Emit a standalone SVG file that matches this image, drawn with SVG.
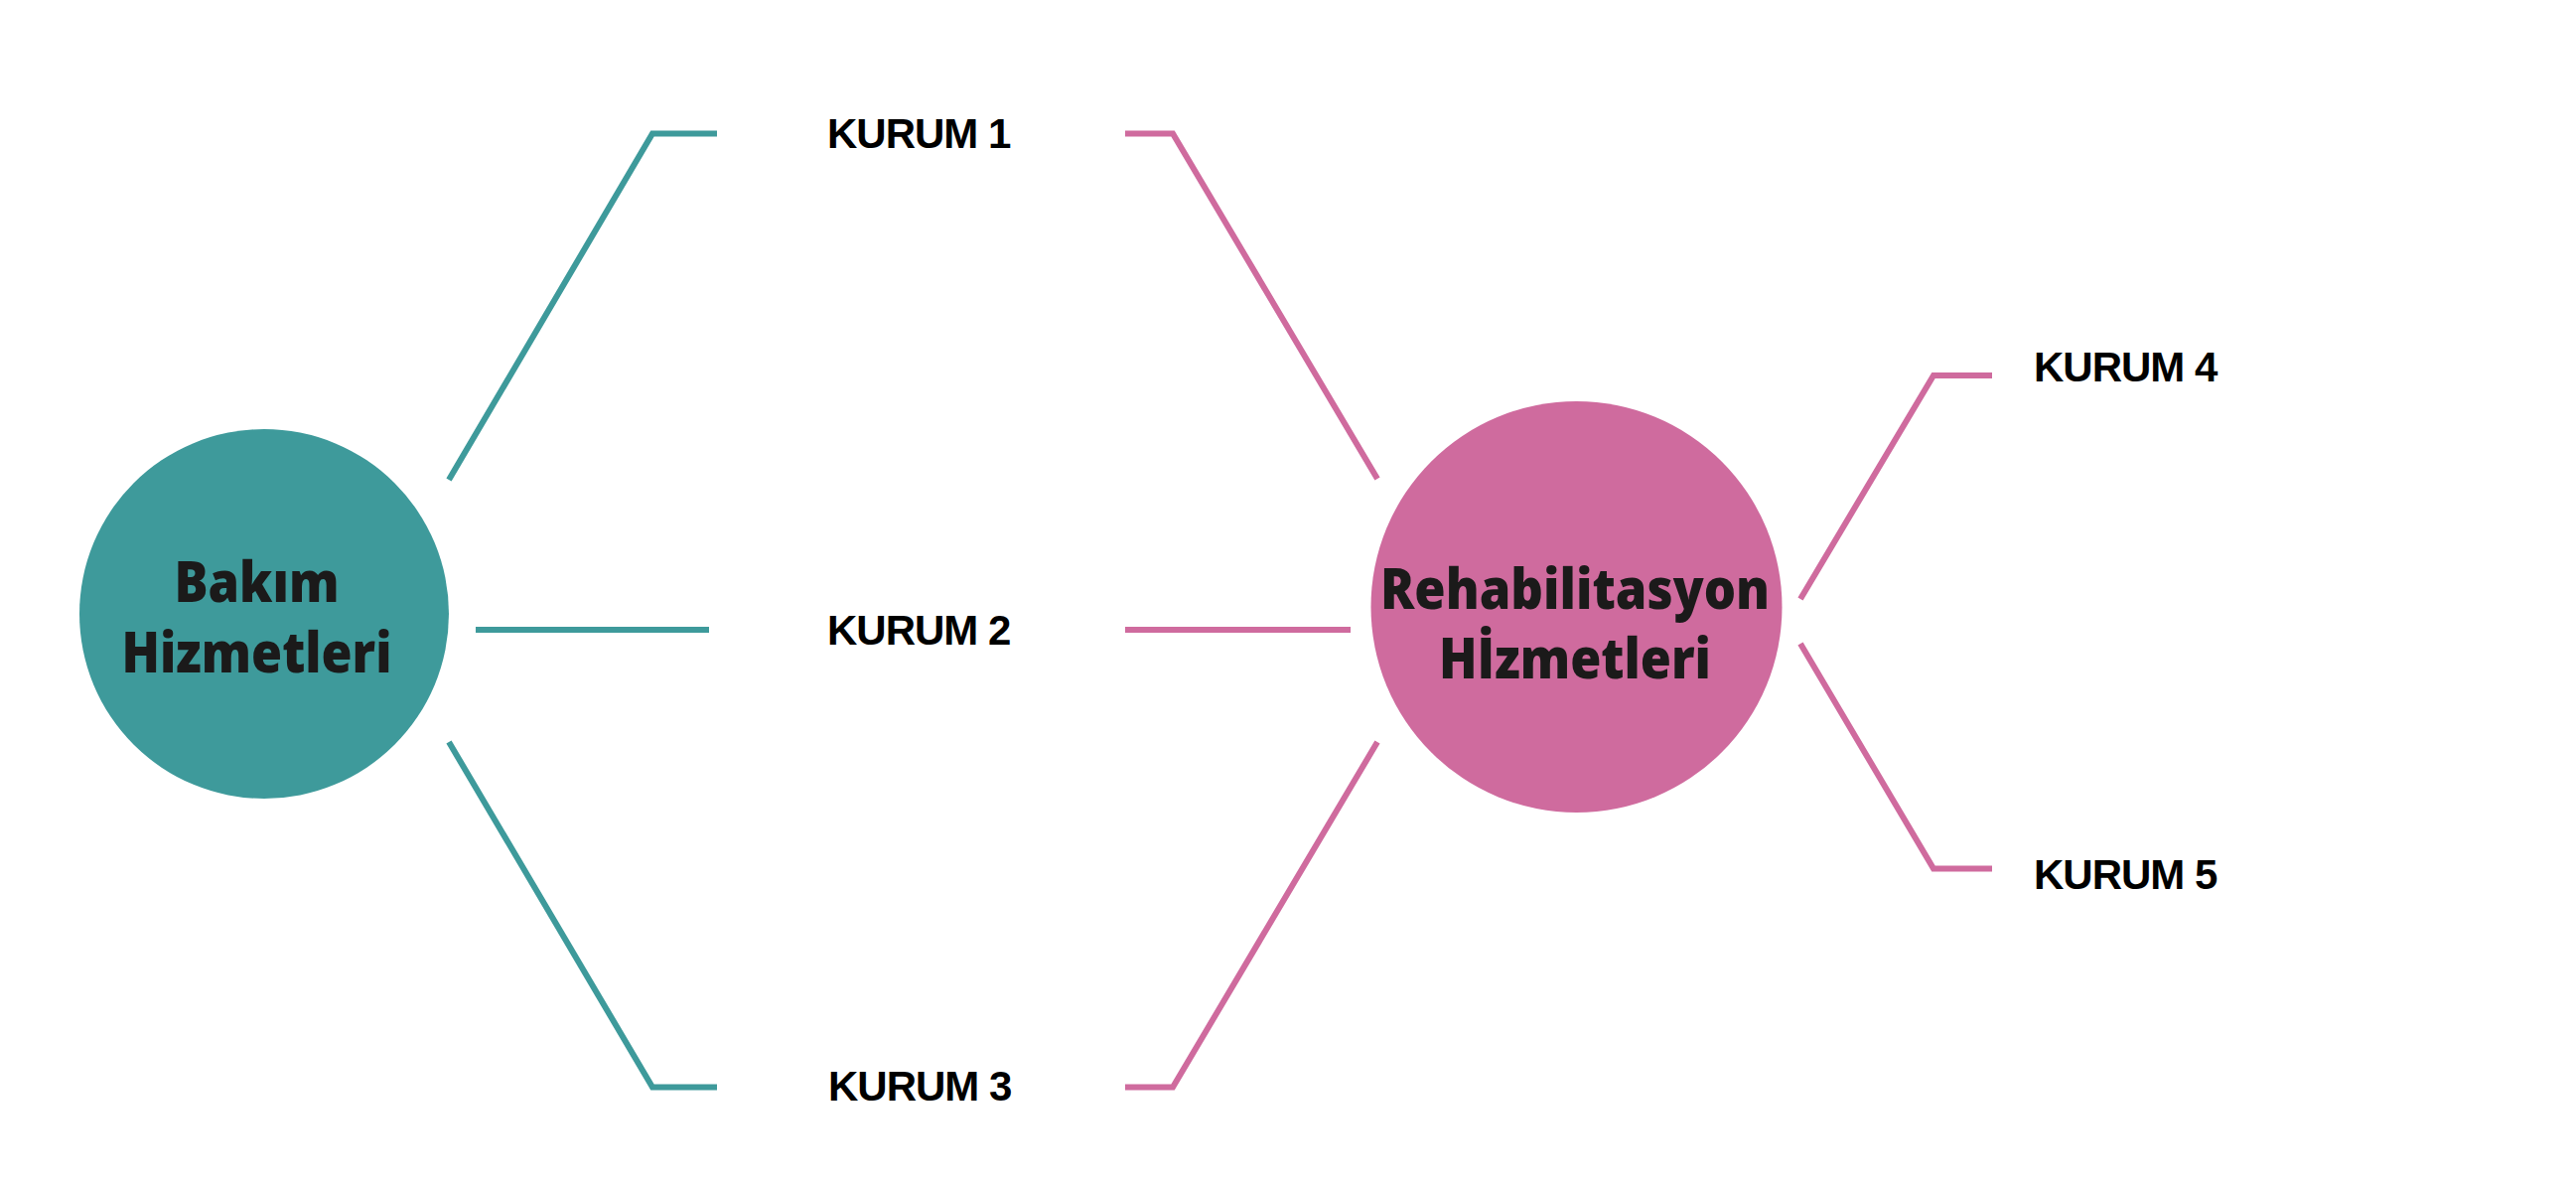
<svg xmlns="http://www.w3.org/2000/svg" width="2594" height="1196" viewBox="0 0 2594 1196">
<style>
.teal{stroke:#3e9a9b;stroke-width:6;fill:none;stroke-linejoin:miter;stroke-linecap:butt}
.pink{stroke:#cf6b9e;stroke-width:6;fill:none;stroke-linejoin:miter;stroke-linecap:butt}
.hub{font-family:"Open Sans","Noto Sans","DejaVu Sans",sans-serif;font-weight:800;font-size:56px;fill:#1b1a1a;text-anchor:middle}
.lbl{font-family:"Liberation Sans",Arial,sans-serif;font-weight:700;font-size:42px;fill:#000;letter-spacing:-1px}
</style>
<rect x="0" y="0" width="2594" height="1196" fill="#ffffff"/>
<g id="connectors">
<path class="teal" d="M452,483 L657,134.5 L722,134.5"/>
<path class="teal" d="M479,634 L714,634"/>
<path class="teal" d="M452,747 L657,1094.5 L722,1094.5"/>
<path class="pink" d="M1133,134.5 L1181,134.5 L1387,482"/>
<path class="pink" d="M1133,634 L1360,634"/>
<path class="pink" d="M1133,1094.5 L1181,1094.5 L1387,747"/>
<path class="pink" d="M1813,603 L1947,378 L2006,378"/>
<path class="pink" d="M1813,648 L1947,874.5 L2006,874.5"/>
</g>
<g id="bakim">
<circle cx="266" cy="618" r="186" fill="#3e9a9b"/>
<text class="hub" x="258.5" y="606" textLength="166" lengthAdjust="spacingAndGlyphs">Bakım</text>
<text class="hub" x="258.5" y="677" textLength="272" lengthAdjust="spacingAndGlyphs">Hizmetleri</text>
</g>
<g id="rehabilitasyon">
<circle cx="1587.5" cy="611" r="207" fill="#cf6b9e"/>
<text class="hub" x="1586" y="613" textLength="392" lengthAdjust="spacingAndGlyphs">Rehabilitasyon</text>
<text class="hub" x="1586" y="683" textLength="274" lengthAdjust="spacingAndGlyphs">Hİzmetleri</text>
</g>
<g id="kurum1"><text class="lbl" x="833" y="149">KURUM 1</text></g>
<g id="kurum2"><text class="lbl" x="833" y="649">KURUM 2</text></g>
<g id="kurum3"><text class="lbl" x="834" y="1108">KURUM 3</text></g>
<g id="kurum4"><text class="lbl" x="2048" y="384">KURUM 4</text></g>
<g id="kurum5"><text class="lbl" x="2048" y="895">KURUM 5</text></g>
</svg>
